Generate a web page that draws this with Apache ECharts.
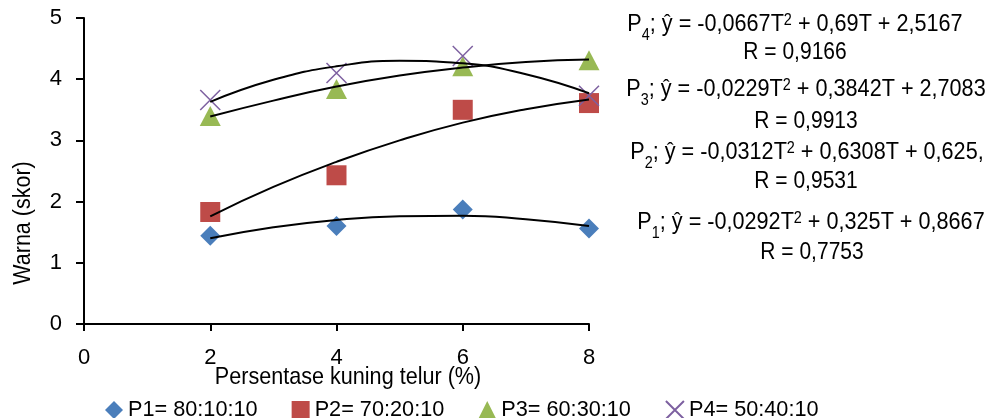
<!DOCTYPE html>
<html>
<head>
<meta charset="utf-8">
<script src="https://cdn.jsdelivr.net/npm/echarts@6/dist/echarts.min.js"></script>
<style>
  html, body { margin: 0; padding: 0; background: #fff; }
  #chart { width: 992px; height: 418px; }
</style>
</head>
<body>
<div id="chart"></div>
<script>
// data
var xValues = [2, 4, 6, 8];
var p1 = [1.44, 1.60, 1.87, 1.56];
var p2 = [1.83, 2.43, 3.50, 3.61];
var p3 = [3.40, 3.84, 4.21, 4.31];
var p4 = [3.66, 4.10, 4.38, 3.73];

// trendline curves
var trendX = [2, 3, 4, 5, 6, 7, 8];
var t1 = [1.40, 1.58, 1.70, 1.76, 1.77, 1.71, 1.60];
var t2 = [1.76, 2.24, 2.65, 3.00, 3.29, 3.51, 3.67];
var t3 = [3.39, 3.65, 3.88, 4.06, 4.19, 4.28, 4.32];
var t4 = [3.63, 3.99, 4.21, 4.30, 4.26, 4.08, 3.77];

var names = ['P1= 80:10:10', 'P2= 70:20:10', 'P3= 60:30:10', 'P4= 50:40:10'];
var colors = ['#4a7ebb', '#be4b48', '#98b954', '#7d60a0'];
var xTicks = [0, 2, 4, 6, 8];
var yTicks = [0, 1, 2, 3, 4, 5];

// text boxes on the right
var eqLines = [
    ['P', '4', '; ŷ = -0,0667T', '2', ' + 0,69T + 2,5167'],
    ['P', '3', '; ŷ = -0,0229T', '2', ' + 0,3842T + 2,7083'],
    ['P', '2', '; ŷ = -0,0312T', '2', ' + 0,6308T + 0,625,'],
    ['P', '1', '; ŷ = -0,0292T', '2', ' + 0,325T + 0,8667']
];
var rLines = ['R = 0,9166', 'R = 0,9913', 'R = 0,9531', 'R = 0,7753'];
var eqPos = [[795, 25], [806, 90], [807, 153], [811, 223]];
var rPos = [[795, 53], [806, 122], [806, 182], [812, 253]];

var font = "'Liberation Sans', Arial, sans-serif";

function pairs(xs, ys) {
    var out = [];
    for (var i = 0; i < xs.length; i++) out.push([xs[i], ys[i]]);
    return out;
}

var chart = echarts.init(document.getElementById('chart'));

var crossPath = 'path://M0,0L10,10M10,0L0,10';

var series = [
    { name: names[0], type: 'scatter', data: pairs(xValues, p1), symbol: 'diamond', symbolSize: 20,
      itemStyle: { color: colors[0], opacity: 1 } },
    { name: names[1], type: 'scatter', data: pairs(xValues, p2), symbol: 'rect', symbolSize: 20,
      itemStyle: { color: colors[1], opacity: 1 } },
    { name: names[2], type: 'scatter', data: pairs(xValues, p3), symbol: 'triangle', symbolSize: [21, 20],
      itemStyle: { color: colors[2], opacity: 1 } },
    { name: names[3], type: 'scatter', data: pairs(xValues, p4), symbol: crossPath, symbolSize: 20,
      itemStyle: { color: 'rgba(0,0,0,0)', borderColor: colors[3], borderWidth: 1.5, opacity: 1 } }
];
[t1, t2, t3, t4].forEach(function (t) {
    series.push({
        type: 'line', data: pairs(trendX, t), smooth: true, showSymbol: false, silent: true,
        lineStyle: { color: '#000', width: 2 }, z: 3
    });
});

var graphics = [
    { type: 'text', x: 23, y: 223, rotation: Math.PI / 2, scaleY: 1.15,
      style: { text: 'Warna (skor)', font: '21.5px ' + font, fill: '#000', align: 'center', verticalAlign: 'middle' } },
    { type: 'text', x: 348, y: 377, scaleY: 1.12,
      style: { text: 'Persentase kuning telur (%)', font: '21.6px ' + font, fill: '#000', align: 'center', verticalAlign: 'middle' } }
];
eqLines.forEach(function (l, i) {
    graphics.push({
        type: 'text', x: eqPos[i][0], y: eqPos[i][1], scaleX: 1.03, scaleY: 1.12,
        style: {
            text: l[0] + '{sub|' + l[1] + '}' + l[2] + '{sup|' + l[3] + '}' + l[4],
            font: '21px ' + font, fill: '#000', align: 'center', verticalAlign: 'middle',
            rich: {
                sub: { fontSize: 14, fontFamily: font, lineHeight: 14, verticalAlign: 'bottom', padding: [0, 0, -6, 0] },
                sup: { fontSize: 14, fontFamily: font, lineHeight: 14, verticalAlign: 'top' }
            }
        }
    });
    graphics.push({
        type: 'text', x: rPos[i][0], y: rPos[i][1], scaleY: 1.12,
        style: { text: rLines[i], font: '21px ' + font, fill: '#000', align: 'center', verticalAlign: 'middle' }
    });
});

var option = {
    animation: false,
    backgroundColor: '#fff',
    grid: { left: 84, right: 403, top: 18, bottom: 94 },
    xAxis: {
        type: 'value', min: xTicks[0], max: xTicks[xTicks.length - 1], interval: 2,
        splitLine: { show: false },
        axisLine: { lineStyle: { color: '#000', width: 2 } },
        axisTick: { show: true, length: 7, lineStyle: { color: '#000', width: 2 } },
        axisLabel: { color: '#000', fontSize: 22, fontFamily: font, margin: 23 }
    },
    yAxis: {
        type: 'value', min: yTicks[0], max: yTicks[yTicks.length - 1], interval: 1,
        splitLine: { show: false },
        axisLine: { show: true, lineStyle: { color: '#000', width: 2 } },
        axisTick: { show: true, length: 8, lineStyle: { color: '#000', width: 2 } },
        axisLabel: { color: '#000', fontSize: 22, fontFamily: font, margin: 22 }
    },
    legend: {
        data: names, left: 100, top: 394, itemWidth: 18, itemHeight: 18, itemGap: 34,
        textStyle: { color: '#000', fontSize: 21.7, fontFamily: font },
        selectedMode: false
    },
    graphic: graphics,
    series: series
};

chart.setOption(option);
</script>
</body>
</html>
